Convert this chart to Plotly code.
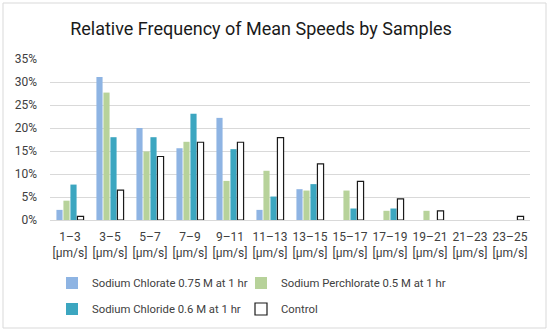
import plotly.graph_objects as go

categories = ["1–3", "3–5", "5–7", "7–9", "9–11", "11–13", "13–15", "15–17",
              "17–19", "19–21", "21–23", "23–25"]
tick_labels = [c + "<br>[μm/s]" for c in categories]

chlorate = [2.2, 31.1, 20.0, 15.6, 22.2, 2.2, 6.7, 0, 0, 0, 0, 0]
perchlorate = [4.2, 27.7, 14.9, 17.0, 8.5, 10.7, 6.4, 6.4, 2.0, 2.0, 0, 0]
chloride = [7.7, 18.0, 18.0, 23.1, 15.4, 5.1, 7.8, 2.5, 2.5, 0, 0, 0]
control = [0.8, 6.5, 13.8, 16.9, 16.9, 17.9, 12.2, 8.4, 4.6, 2.0, None, 0.8]

series_names = ["Sodium Chlorate 0.75 M at 1 hr", "Sodium Perchlorate 0.5 M at 1 hr",
                "Sodium Chloride 0.6 M at 1 hr", "Control"]

fig = go.Figure()
fig.add_trace(go.Bar(x=tick_labels, y=chlorate, name=series_names[0],
                     marker=dict(color="#8EB4E3", line=dict(width=0)), legend="legend"))
fig.add_trace(go.Bar(x=tick_labels, y=perchlorate, name=series_names[1],
                     marker=dict(color="#B7D29A", line=dict(width=0)), legend="legend2"))
fig.add_trace(go.Bar(x=tick_labels, y=chloride, name=series_names[2],
                     marker=dict(color="#3CA6C0", line=dict(width=0)), legend="legend3"))
fig.add_trace(go.Bar(x=tick_labels, y=control, name=series_names[3],
                     marker=dict(color="#FFFFFF", line=dict(color="#1A1A1A", width=1.2)),
                     legend="legend4"))

W, H = 550, 333
ml, mr, mt, mb = 50, 20, 59, 113
pw, ph = W - ml - mr, H - mt - mb

def px_x(p):
    return (p - ml) / pw

def px_y(p):
    return (H - mb - p) / ph

font = "Roboto, Arial, sans-serif"
legend_common = dict(orientation="h", xanchor="left", yanchor="middle",
                     xref="container", yref="container",
                     entrywidth=185, entrywidthmode="pixels",
                     font=dict(family=font, size=11.3, color="#404040"),
                     bgcolor="rgba(0,0,0,0)", itemwidth=30, visible=True)

fig.update_layout(
    width=W, height=H,
    showlegend=True,
    margin=dict(l=ml, r=mr, t=mt, b=mb, autoexpand=False),
    paper_bgcolor="white", plot_bgcolor="white",
    barmode="group", bargap=0.3, bargroupgap=0.12,
    title=dict(text="Relative Frequency of Mean Speeds by Samples",
               x=261 / W, xref="container", xanchor="center",
               y=1 - 29 / H, yref="container", yanchor="middle",
               font=dict(family=font, size=18, color="#1A1A1A")),
    legend=dict(x=52 / W, y=1 - 283 / H, **legend_common),
    legend2=dict(x=241 / W, y=1 - 283 / H, **legend_common),
    legend3=dict(x=52 / W, y=1 - 309 / H, **legend_common),
    legend4=dict(x=241 / W, y=1 - 309 / H, **legend_common),
    xaxis=dict(tickfont=dict(family=font, size=12, color="#404040"),
               showgrid=False, showline=False, ticks="", tickangle=0,
               ticklabelstandoff=8),
    yaxis=dict(range=[0, 35], dtick=5, ticksuffix="%",
               tickfont=dict(family=font, size=12, color="#404040"),
               gridcolor="#D9D9D9", gridwidth=1, zeroline=True,
               zerolinecolor="#D9D9D9", zerolinewidth=1,
               showline=False, ticks="", ticklabelstandoff=12),
    shapes=[dict(type="rect", xref="paper", yref="paper",
                 x0=px_x(3), x1=px_x(546), y0=px_y(328), y1=px_y(3),
                 line=dict(color="#D9D9D9", width=1), layer="below")],
)

fig.write_html("out.html", config={"displayModeBar": False},
               post_script="document.body.style.margin='0px';")
